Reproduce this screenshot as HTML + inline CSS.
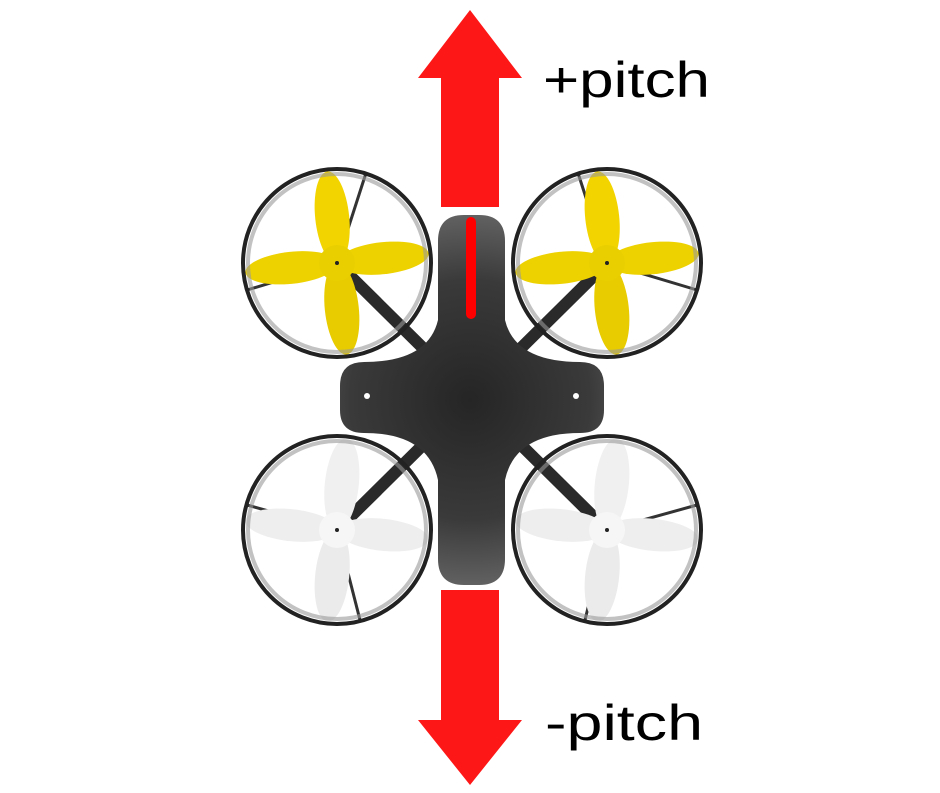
<!DOCTYPE html>
<html><head><style>
html,body{margin:0;padding:0;background:#fff;}
body{width:940px;height:788px;overflow:hidden;}
</style></head><body>
<svg width="940" height="788" viewBox="0 0 940 788" xmlns="http://www.w3.org/2000/svg">
<defs>
<radialGradient id="bg" cx="470" cy="400" r="200" gradientUnits="userSpaceOnUse">
<stop offset="0" stop-color="#252525"/><stop offset="0.6" stop-color="#3a3a3a"/><stop offset="1" stop-color="#6a6a6a"/>
</radialGradient>
<g id="propY">
<ellipse cx="0" cy="-46" rx="17" ry="46" fill="#f2d500" transform="rotate(-6)"/>
<ellipse cx="0" cy="46" rx="17" ry="46" fill="#e8cc00" transform="rotate(-6)"/>
<ellipse cx="-46" cy="0" rx="46" ry="16" fill="#eed200" transform="rotate(-6)"/>
<ellipse cx="46" cy="0" rx="46" ry="16" fill="#eed200" transform="rotate(-6)"/>
<circle r="18" fill="#e9cf00"/><circle r="2" fill="#222"/>
</g>
<g id="propW">
<ellipse cx="0" cy="-46" rx="17" ry="46" fill="#f0f0f0" transform="rotate(6)"/>
<ellipse cx="0" cy="46" rx="17" ry="46" fill="#ebebeb" transform="rotate(6)"/>
<ellipse cx="-46" cy="0" rx="46" ry="16" fill="#eeeeee" transform="rotate(6)"/>
<ellipse cx="46" cy="0" rx="46" ry="16" fill="#eeeeee" transform="rotate(6)"/>
<circle r="18" fill="#f6f6f6"/><circle r="2" fill="#222"/>
</g>
<g id="ring">
<circle r="94" fill="none" stroke="#222" stroke-width="4"/>
<circle r="89" fill="none" stroke="#999" stroke-width="4" opacity="0.6"/>
</g>
</defs>
<g stroke="#2a2a2a" stroke-width="12">
<line x1="337" y1="263" x2="607" y2="530"/>
<line x1="607" y1="263" x2="337" y2="530"/>
</g>
<g stroke="#333" stroke-width="3">
<line x1="337" y1="263" x2="366" y2="173"/><line x1="337" y1="263" x2="247" y2="290"/>
<line x1="607" y1="263" x2="578" y2="173"/><line x1="607" y1="263" x2="697" y2="290"/>
<line x1="337" y1="530" x2="247" y2="505"/><line x1="337" y1="530" x2="360" y2="620"/>
<line x1="607" y1="530" x2="697" y2="505"/><line x1="607" y1="530" x2="585" y2="620"/>
</g>
<use href="#propY" x="337" y="263"/><use href="#propY" x="607" y="263"/>
<use href="#propW" x="337" y="530"/><use href="#propW" x="607" y="530"/>
<use href="#ring" x="337" y="263"/><use href="#ring" x="607" y="263"/>
<use href="#ring" x="337" y="530"/><use href="#ring" x="607" y="530"/>
<path fill="url(#bg)" d="M464 215 H479 Q505 215 505 241 V320 Q515 362 580 362 Q604 362 604 386 V410 Q604 433 580 433 Q515 433 505 480 V559 Q505 585 479 585 H464 Q438 585 438 559 V480 Q428 433 364 433 Q340 433 340 410 V386 Q340 362 364 362 Q428 362 438 320 V241 Q438 215 464 215Z"/>
<circle cx="367" cy="396" r="3" fill="#fff"/><circle cx="576" cy="396" r="3" fill="#fff"/>
<rect x="466" y="217" width="10" height="102" rx="5" fill="#f00"/>
<path d="M441 207 V78 H418 L470 10 L522 78 H499 V207Z" fill="#fe1717"/>
<path d="M441 590 V720 H418 L470 785 L522 720 H499 V590Z" fill="#fe1717"/>
<text x="543" y="97" font-family="Liberation Sans, sans-serif" font-size="50" textLength="167" lengthAdjust="spacingAndGlyphs" fill="#000">+pitch</text>
<text x="545" y="740" font-family="Liberation Sans, sans-serif" font-size="50" textLength="158" lengthAdjust="spacingAndGlyphs" fill="#000">-pitch</text>
</svg>
</body></html>
